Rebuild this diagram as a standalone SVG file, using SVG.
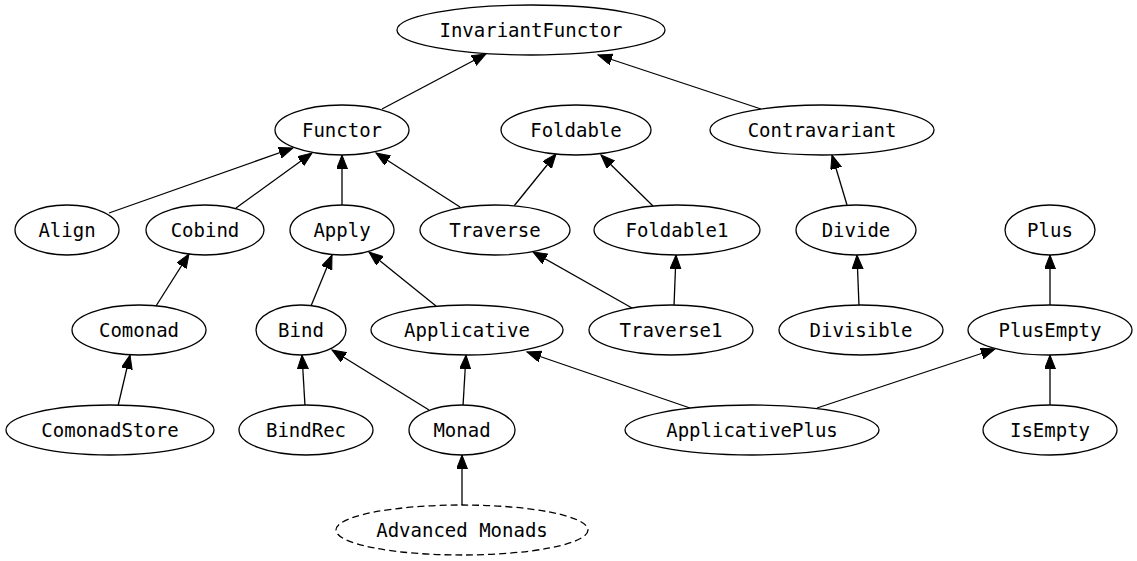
<svg xmlns="http://www.w3.org/2000/svg" width="1137" height="561" viewBox="0 0 1137 561">
<style>
.n ellipse{fill:#fff;stroke:#000;stroke-width:1.3}
.n text{font-family:"DejaVu Sans Mono",monospace;font-size:19px;text-anchor:middle;fill:#000}
.e line{stroke:#000;stroke-width:1.3;marker-end:url(#ah)}
.d{stroke-dasharray:7,4}
</style>
<defs>
<marker id="ah" markerUnits="userSpaceOnUse" markerWidth="16" markerHeight="13" refX="14" refY="5.5" orient="auto">
<path d="M0,0 L14,5.5 L0,11 z" fill="#000" stroke="#000" stroke-width="1"/>
</marker>
</defs>
<rect width="1137" height="561" fill="#fff"/>
<g class="e" id="edges">
<line x1="382" y1="109" x2="486" y2="54"/>
<line x1="761" y1="109" x2="598" y2="55"/>
<line x1="109" y1="213" x2="293" y2="148"/>
<line x1="236" y1="208" x2="312" y2="153"/>
<line x1="342" y1="205" x2="342" y2="155"/>
<line x1="460" y1="207" x2="376" y2="153"/>
<line x1="514" y1="206" x2="556" y2="154"/>
<line x1="653" y1="206" x2="601" y2="155"/>
<line x1="847" y1="205" x2="832" y2="155"/>
<line x1="156" y1="306" x2="189" y2="254"/>
<line x1="311" y1="306" x2="332" y2="255"/>
<line x1="436" y1="306" x2="369" y2="252"/>
<line x1="632" y1="308" x2="533" y2="252"/>
<line x1="674" y1="306" x2="676" y2="255"/>
<line x1="859" y1="306" x2="857" y2="255"/>
<line x1="1050" y1="306" x2="1050" y2="255"/>
<line x1="118" y1="406" x2="130" y2="355"/>
<line x1="305" y1="406" x2="302" y2="355"/>
<line x1="429" y1="410" x2="332" y2="350"/>
<line x1="463" y1="406" x2="466" y2="355"/>
<line x1="690" y1="408" x2="527" y2="352"/>
<line x1="817" y1="408" x2="995" y2="349"/>
<line x1="1050" y1="406" x2="1050" y2="355"/>
<line x1="462" y1="505" x2="462" y2="455"/>
</g>
<g class="n" id="InvariantFunctor"><ellipse cx="531" cy="30" rx="134" ry="25"/><text x="531" y="36.5">InvariantFunctor</text></g>
<g class="n" id="Functor"><ellipse cx="342" cy="130" rx="67" ry="25"/><text x="342" y="136.5">Functor</text></g>
<g class="n" id="Foldable"><ellipse cx="576" cy="130" rx="75" ry="25"/><text x="576" y="136.5">Foldable</text></g>
<g class="n" id="Contravariant"><ellipse cx="822" cy="130" rx="112" ry="25"/><text x="822" y="136.5">Contravariant</text></g>
<g class="n" id="Align"><ellipse cx="67" cy="230" rx="52" ry="25"/><text x="67" y="236.5">Align</text></g>
<g class="n" id="Cobind"><ellipse cx="205" cy="230" rx="59" ry="25"/><text x="205" y="236.5">Cobind</text></g>
<g class="n" id="Apply"><ellipse cx="342" cy="230" rx="52" ry="25"/><text x="342" y="236.5">Apply</text></g>
<g class="n" id="Traverse"><ellipse cx="495" cy="230" rx="75" ry="25"/><text x="495" y="236.5">Traverse</text></g>
<g class="n" id="Foldable1"><ellipse cx="677" cy="230" rx="83" ry="25"/><text x="677" y="236.5">Foldable1</text></g>
<g class="n" id="Divide"><ellipse cx="856" cy="230" rx="60" ry="25"/><text x="856" y="236.5">Divide</text></g>
<g class="n" id="Plus"><ellipse cx="1050" cy="230" rx="45" ry="25"/><text x="1050" y="236.5">Plus</text></g>
<g class="n" id="Comonad"><ellipse cx="139" cy="330" rx="67" ry="25"/><text x="139" y="336.5">Comonad</text></g>
<g class="n" id="Bind"><ellipse cx="301" cy="330" rx="45" ry="25"/><text x="301" y="336.5">Bind</text></g>
<g class="n" id="Applicative"><ellipse cx="467" cy="330" rx="96" ry="25"/><text x="467" y="336.5">Applicative</text></g>
<g class="n" id="Traverse1"><ellipse cx="671" cy="330" rx="82" ry="25"/><text x="671" y="336.5">Traverse1</text></g>
<g class="n" id="Divisible"><ellipse cx="861" cy="330" rx="82" ry="25"/><text x="861" y="336.5">Divisible</text></g>
<g class="n" id="PlusEmpty"><ellipse cx="1050" cy="330" rx="82" ry="25"/><text x="1050" y="336.5">PlusEmpty</text></g>
<g class="n" id="ComonadStore"><ellipse cx="110" cy="430" rx="104" ry="25"/><text x="110" y="436.5">ComonadStore</text></g>
<g class="n" id="BindRec"><ellipse cx="306" cy="430" rx="67" ry="25"/><text x="306" y="436.5">BindRec</text></g>
<g class="n" id="Monad"><ellipse cx="462" cy="430" rx="53" ry="25"/><text x="462" y="436.5">Monad</text></g>
<g class="n" id="ApplicativePlus"><ellipse cx="752" cy="430" rx="127" ry="25"/><text x="752" y="436.5">ApplicativePlus</text></g>
<g class="n" id="IsEmpty"><ellipse cx="1050" cy="430" rx="67" ry="25"/><text x="1050" y="436.5">IsEmpty</text></g>
<g class="n" id="AdvancedMonads"><ellipse class="d" cx="462" cy="530" rx="126" ry="25"/><text x="462" y="536.5">Advanced Monads</text></g>
</svg>
